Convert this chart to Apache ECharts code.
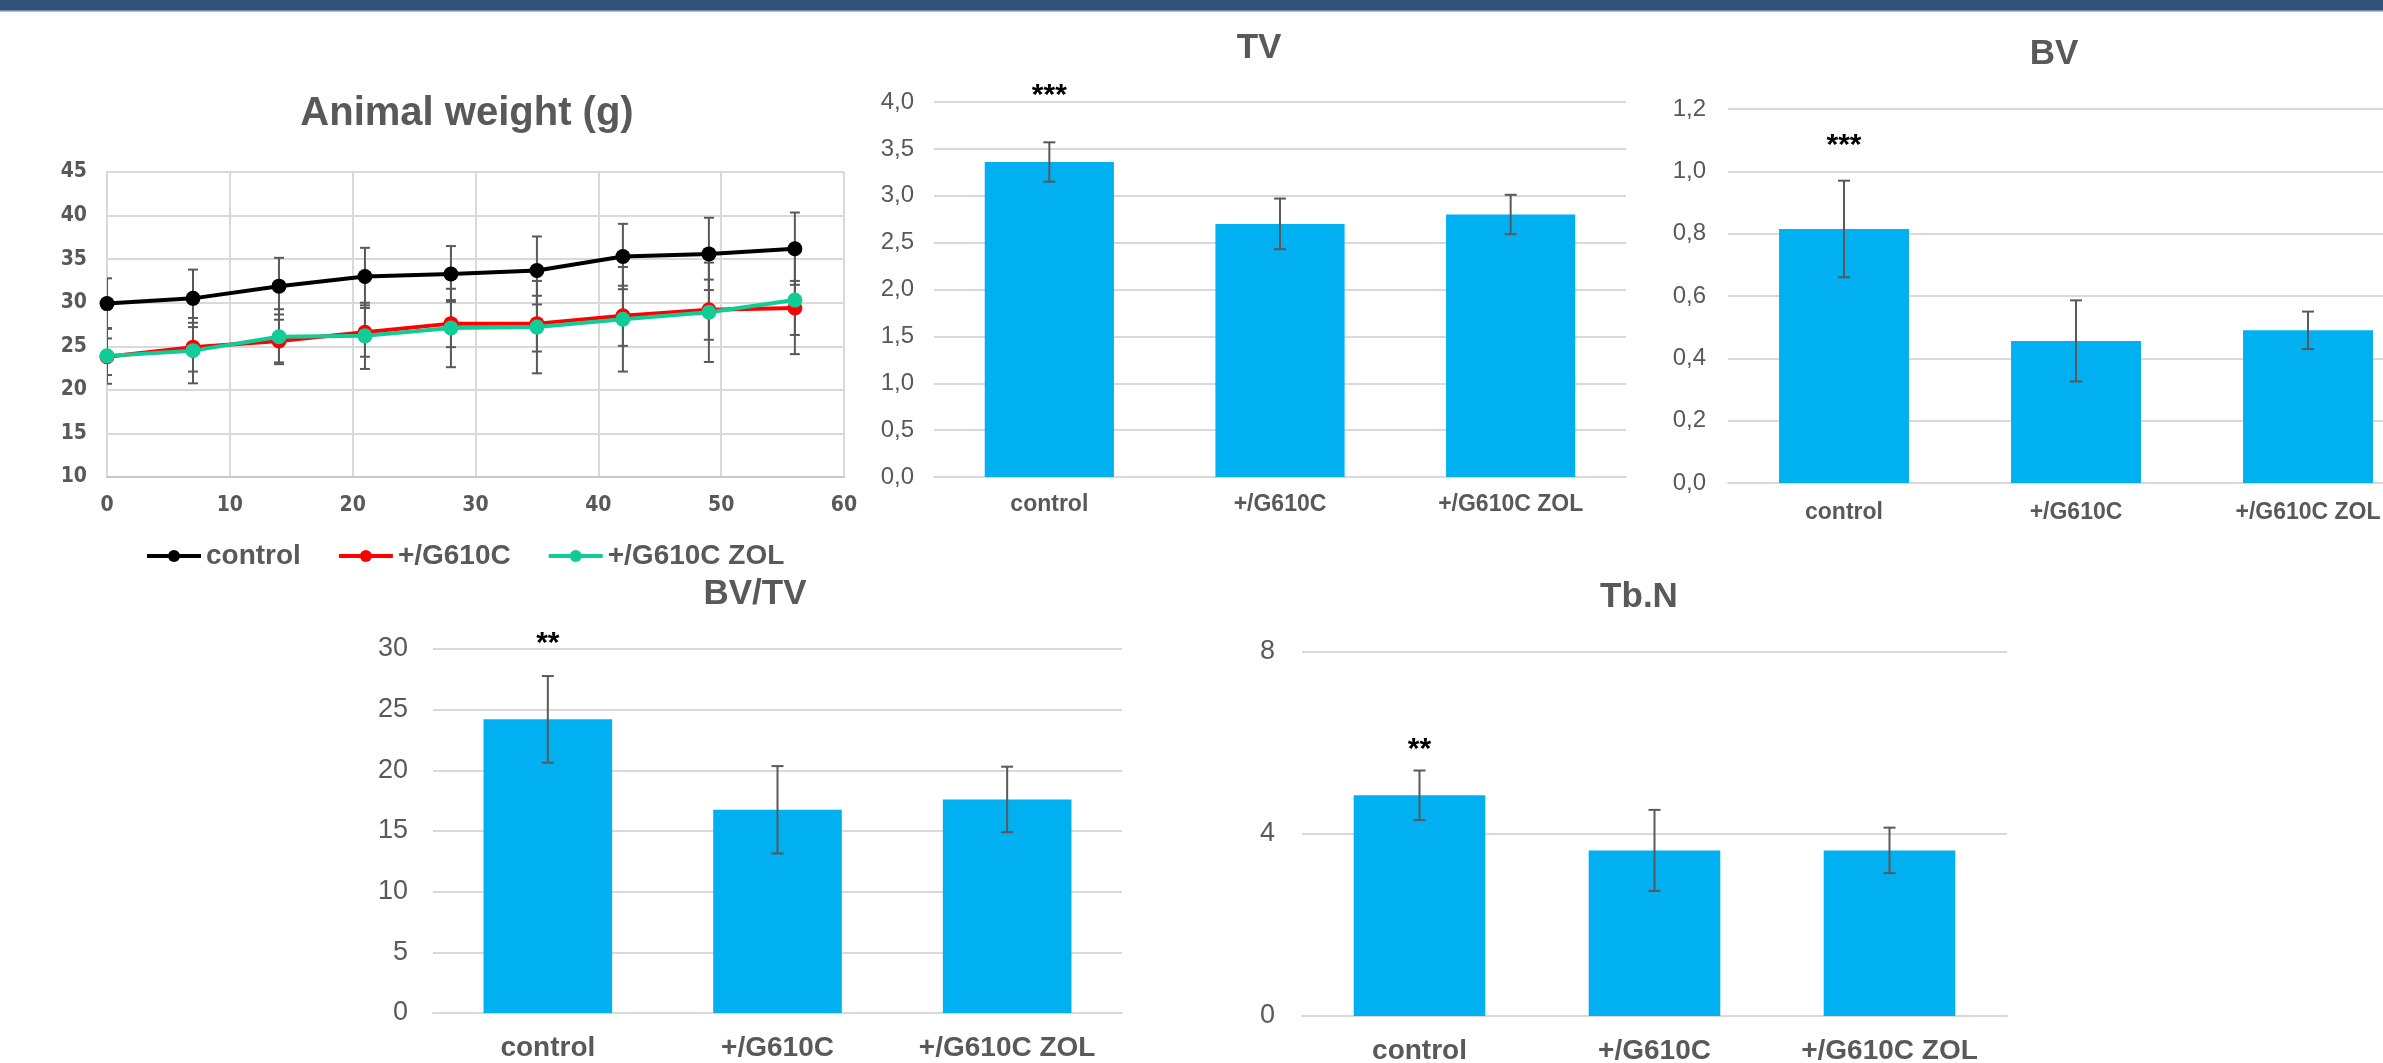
<!DOCTYPE html>
<html>
<head>
<meta charset="utf-8">
<script src="https://cdn.jsdelivr.net/npm/echarts@6/dist/echarts.min.js"></script>
<style>
  html, body { margin: 0; padding: 0; background: #fff; }
  #chart { width: 2383px; height: 1063px; }
</style>
</head>
<body>
<div id="chart"></div>
<script>
// --- data ---
const days = [0, 7, 14, 21, 28, 35, 42, 49, 56];
const weightControl    = [29.9, 30.5, 31.9, 33.0, 33.3, 33.7, 35.3, 35.6, 36.2];
const weightControlErr = [2.9, 3.3, 3.25, 3.3, 3.2, 3.9, 3.75, 4.15, 4.15];
const weightG610C      = [23.8, 24.9, 25.6, 26.6, 27.6, 27.6, 28.5, 29.2, 29.4];
const weightG610CErr   = [2.1, 2.8, 2.45, 2.8, 2.7, 3.2, 3.45, 3.45, 3.1];
const weightZol        = [23.9, 24.5, 26.1, 26.2, 27.1, 27.2, 28.1, 28.9, 30.3];
const weightZolErr     = [3.2, 3.75, 3.15, 3.8, 4.5, 5.3, 6.0, 5.7, 6.2];

const groups = ['control', '+/G610C', '+/G610C ZOL'];
const tv      = [3.36, 2.70, 2.80];
const tvErr   = [0.21, 0.27, 0.21];
const tvSig   = ['***', '', ''];
const tvSigY  = 4.07;
const bv      = [0.815, 0.456, 0.49];
const bvErr   = [0.155, 0.13, 0.06];
const bvSig   = ['***', '', ''];
const bvSigY  = 1.082;
const bvtv    = [24.2, 16.75, 17.6];
const bvtvErr = [3.57, 3.6, 2.7];
const bvtvSig = ['**', '', ''];
const bvtvSigY = 30.4;
const tbn     = [4.85, 3.64, 3.64];
const tbnErr  = [0.545, 0.89, 0.5];
const tbnSig  = ['**', '', ''];
const tbnSigY = 5.86;

const FONT = "'Liberation Sans', Arial, sans-serif";
const NARROW = "'Liberation Sans Narrow', 'DejaVu Sans Condensed', sans-serif";
const GREY = '#595959';
const GRIDLINE = '#d9d9d9';
const BLUE = '#00b0f0';

// error bar drawing, shared by line and bar charts
function errRender(capHalf) {
  return function (params, api) {
    const x = api.value(0);
    const top = api.coord([x, api.value(2)]);
    const bot = api.coord([x, api.value(1)]);
    const st = { stroke: GREY, lineWidth: 2 };
    return {
      type: 'group',
      children: [
        { type: 'line', shape: { x1: top[0], y1: top[1], x2: bot[0], y2: bot[1] }, style: st },
        { type: 'line', shape: { x1: top[0] - capHalf, y1: top[1], x2: top[0] + capHalf, y2: top[1] }, style: st },
        { type: 'line', shape: { x1: bot[0] - capHalf, y1: bot[1], x2: bot[0] + capHalf, y2: bot[1] }, style: st }
      ]
    };
  };
}

function sigRender(sig, y, size) {
  return function (params, api) {
    const p = api.coord([params.dataIndex, y]);
    return {
      type: 'text', x: p[0], y: p[1],
      style: { text: sig[params.dataIndex], fill: '#000', fontSize: size, fontWeight: 'bold',
               fontFamily: FONT, align: 'center', verticalAlign: 'middle' }
    };
  };
}

function errData(xs, vals, errs) {
  return vals.map((v, i) => [xs[i], v - errs[i], v + errs[i]]);
}

function catAxis(gi, fontSize, margin) {
  return {
    type: 'category', gridIndex: gi, data: groups,
    axisLine: { show: true, lineStyle: { color: GRIDLINE, width: 2 } },
    axisTick: { show: false },
    axisLabel: { interval: 0, margin: margin, fontSize: fontSize, fontWeight: 'bold', color: GREY, fontFamily: FONT }
  };
}

function valAxis(gi, max, interval, fontSize, margin, dec) {
  return {
    type: 'value', gridIndex: gi, min: 0, max: max, interval: interval,
    axisLine: { show: false }, axisTick: { show: false },
    splitLine: { lineStyle: { color: GRIDLINE, width: 2 } },
    axisLabel: {
      margin: margin, fontSize: fontSize, color: GREY, fontFamily: FONT,
      formatter: v => dec ? v.toFixed(1).replace('.', ',') : String(v)
    }
  };
}

function barSet(idx, vals, errs, sig, sigY, sigSize) {
  return [
    { type: 'bar', xAxisIndex: idx, yAxisIndex: idx, data: vals, barWidth: '56%',
      itemStyle: { color: BLUE }, z: 2, silent: true },
    { type: 'custom', xAxisIndex: idx, yAxisIndex: idx, renderItem: errRender(6),
      data: errData([0, 1, 2], vals, errs), encode: { x: 0, y: [1, 2] }, z: 3, silent: true },
    { type: 'custom', xAxisIndex: idx, yAxisIndex: idx, renderItem: sigRender(sig, sigY, sigSize),
      data: sig.map((s, i) => [i, sigY]), encode: { x: 0, y: 1 }, z: 4, silent: true }
  ];
}

function lineSeries(name, color, vals) {
  return {
    name: name, type: 'line', xAxisIndex: 0, yAxisIndex: 0,
    data: vals.map((v, i) => [days[i], v]),
    symbol: 'circle', symbolSize: 15, color: color,
    lineStyle: { color: color, width: 4 }, itemStyle: { color: color },
    z: 5, silent: true
  };
}

function lineErr(vals, errs) {
  return {
    type: 'custom', xAxisIndex: 0, yAxisIndex: 0, renderItem: errRender(5), clip: true,
    data: errData(days, vals, errs), encode: { x: 0, y: [1, 2] }, z: 3, silent: true
  };
}

function title(text, x, y, size) {
  return {
    type: 'text', x: x, y: y,
    style: { text: text, fill: GREY, fontSize: size, fontWeight: 'bold', fontFamily: FONT,
             align: 'center', verticalAlign: 'middle' }
  };
}

const chart = echarts.init(document.getElementById('chart'));
chart.setOption({
  backgroundColor: '#fff',
  animation: false,
  graphic: [
    { type: 'rect', shape: { x: 0, y: 0, width: 2383, height: 10 }, style: { fill: '#34527a' } },
    { type: 'rect', shape: { x: 0, y: 10, width: 2383, height: 1.5 }, style: { fill: '#6f88a8' } },
    title('Animal weight (g)', 467, 114, 40),
    title('TV', 1259, 48, 35),
    title('BV', 2054, 54, 35),
    title('BV/TV', 755, 594, 35),
    title('Tb.N', 1639, 597, 35)
  ],
  legend: {
    data: ['control', '+/G610C', '+/G610C ZOL'],
    left: 145, top: 542, padding: 0,
    itemWidth: 54, itemHeight: 15, itemGap: 36,
    lineStyle: { width: 4 },
    textStyle: { fontSize: 28, fontWeight: 'bold', color: GREY, fontFamily: FONT }
  },
  grid: [
    { left: 107, top: 172, width: 737, height: 305, outerBoundsMode: 'none' },
    { left: 934, top: 102, width: 692, height: 375, outerBoundsMode: 'none' },
    { left: 1728, top: 109, width: 696, height: 374, outerBoundsMode: 'none' },
    { left: 433, top: 649, width: 689, height: 364, outerBoundsMode: 'none' },
    { left: 1302, top: 652, width: 705, height: 364, outerBoundsMode: 'none' }
  ],
  xAxis: [
    {
      type: 'value', gridIndex: 0, min: 0, max: 60, interval: 10,
      axisLine: { onZero: false, lineStyle: { color: '#c8c8c8', width: 2 } },
      axisTick: { show: false },
      splitLine: { lineStyle: { color: GRIDLINE, width: 2 } },
      axisLabel: { margin: 18, fontSize: 21, fontWeight: 'bold', color: GREY, fontFamily: NARROW }
    },
    catAxis(1, 23, 16),
    catAxis(2, 23, 18),
    catAxis(3, 28, 21),
    catAxis(4, 28, 21)
  ],
  yAxis: [
    {
      type: 'value', gridIndex: 0, min: 10, max: 45, interval: 5,
      axisLine: { show: true, lineStyle: { color: GRIDLINE, width: 2 } },
      axisTick: { show: false },
      splitLine: { lineStyle: { color: GRIDLINE, width: 2 } },
      axisLabel: { margin: 20, fontSize: 21, fontWeight: 'bold', color: GREY, fontFamily: NARROW }
    },
    valAxis(1, 4, 0.5, 24, 20, true),
    valAxis(2, 1.2, 0.2, 24, 22, true),
    valAxis(3, 30, 5, 27, 25, false),
    valAxis(4, 8, 4, 27, 27, false)
  ],
  series: [
    lineErr(weightControl, weightControlErr),
    lineErr(weightG610C, weightG610CErr),
    lineErr(weightZol, weightZolErr),
    lineSeries('control', '#000000', weightControl),
    lineSeries('+/G610C', '#ff0000', weightG610C),
    lineSeries('+/G610C ZOL', '#10cc96', weightZol),
    ...barSet(1, tv, tvErr, tvSig, tvSigY, 30),
    ...barSet(2, bv, bvErr, bvSig, bvSigY, 30),
    ...barSet(3, bvtv, bvtvErr, bvtvSig, bvtvSigY, 30),
    ...barSet(4, tbn, tbnErr, tbnSig, tbnSigY, 30)
  ]
});
</script>
</body>
</html>
